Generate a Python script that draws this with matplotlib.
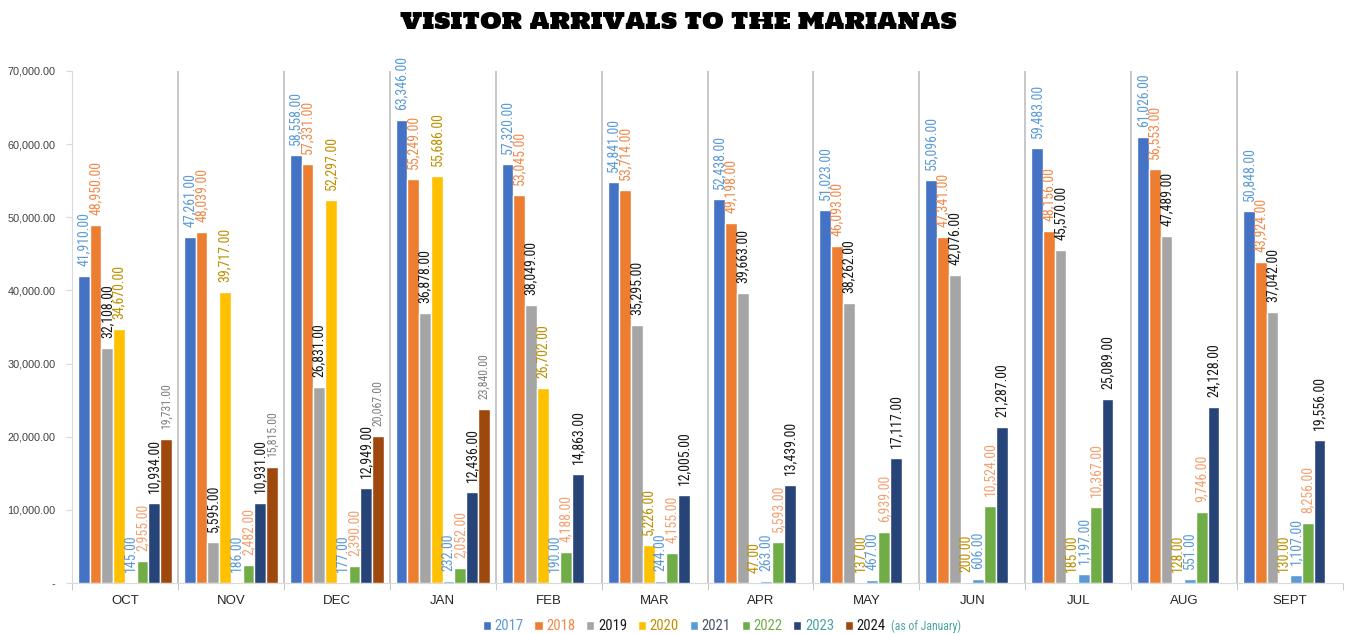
import numpy as np
import matplotlib
matplotlib.use("Agg")
import matplotlib.pyplot as plt
from matplotlib import font_manager

months = ["OCT", "NOV", "DEC", "JAN", "FEB", "MAR", "APR", "MAY", "JUN", "JUL", "AUG", "SEPT"]
years = ["2017", "2018", "2019", "2020", "2021", "2022", "2023", "2024"]

v2017 = [41910, 47261, 58558, 63346, 57320, 54841, 52438, 51023, 55096, 59483, 61026, 50848]
v2018 = [48950, 48039, 57331, 55249, 53045, 53714, 49198, 46093, 47341, 48156, 56553, 43924]
v2019 = [32108, 5595, 26831, 36878, 38049, 35295, 39663, 38262, 42076, 45570, 47489, 37042]
v2020 = [34670, 39717, 52297, 55686, 26702, 5226, 47, 137, 200, 185, 128, 130]
v2021 = [145, 186, 177, 232, 190, 244, 263, 467, 606, 1197, 551, 1107]
v2022 = [2955, 2482, 2390, 2052, 4188, 4155, 5593, 6939, 10524, 10367, 9746, 8256]
v2023 = [10934, 10931, 12949, 12436, 14863, 12005, 13439, 17117, 21287, 25089, 24128, 19556]
v2024 = [19731, 15815, 20067, 23840, None, None, None, None, None, None, None, None]

series = [v2017, v2018, v2019, v2020, v2021, v2022, v2023, v2024]
bar_colors = ["#4472C4", "#ED7D31", "#A5A5A5", "#FFC000", "#5B9BD5", "#70AD47", "#264478", "#9E480E"]
label_colors = ["#5B9BD5", "#F08A4B", "#1A1A1A", "#BF9000", "#5B9BD5", "#F4A070", "#1A1A1A", "#7F7F7F"]
legend_colors = ["#5B9BD5", "#F08A4B", "#1A1A1A", "#BF9000", "#44546A", "#70AD47", "#4BA3A3", "#1A1A1A"]


def pick(cands):
    names = {f.name for f in font_manager.fontManager.ttflist}
    for c in cands:
        if c in names:
            return c
    return "DejaVu Sans"


narrow = pick(["Roboto Condensed", "Archivo Narrow", "PT Sans Narrow"])
sans = pick(["Liberation Sans", "Arimo"])
title_font = pick(["Holtwood One SC", "Alfa Slab One", "DejaVu Serif"])

fig = plt.figure(figsize=(13.47, 6.34), dpi=100)
ax = fig.add_axes([72 / 1347, 1 - 583 / 634, (1343 - 72) / 1347, (583 - 71) / 634])

n = len(series)
pad = 0.056
slot = (1 - 2 * pad) / n
for j, (vals, col) in enumerate(zip(series, bar_colors)):
    xs = [i + pad + slot * (j + 0.5) for i, v in enumerate(vals) if v is not None]
    hs = [v for v in vals if v is not None]
    ax.bar(xs, hs, width=slot, color=col, edgecolor="white", linewidth=1, label=years[j], zorder=3)
    fs = 8.5 if years[j] == "2024" else 10
    for x, h in zip(xs, hs):
        ax.annotate(f"{h:,.2f}", (x, h), xytext=(0, 10), textcoords="offset pixels",
                    rotation=90, ha="center", va="bottom", fontsize=fs,
                    family=narrow, color=label_colors[j], zorder=4)

ax.set_xlim(0, 12)
ax.set_ylim(0, 70000)
for k in range(1, 12):
    ax.axvline(k, color="#BFBFBF", lw=1.2, zorder=1)

ax.set_xticks(np.arange(12) + 0.5)
ax.set_xticklabels(months, family=sans, fontsize=9.5, color="#262626")
ax.set_xticks(np.arange(13), minor=True)
ax.tick_params(axis="x", which="major", length=0, pad=9)
ax.tick_params(axis="x", which="minor", length=5, color="#BFBFBF")

yt = np.arange(0, 70001, 10000)
ax.set_yticks(yt)
ax.set_yticklabels(["-"] + [f"{t:,.2f}" for t in yt[1:]], family=sans, fontsize=7.8, color="#404040")
ax.tick_params(axis="y", length=4, color="#D9D9D9", pad=8)

for s in ["top", "right"]:
    ax.spines[s].set_visible(False)
ax.spines["left"].set_color("#D9D9D9")
ax.spines["bottom"].set_color("#D9D9D9")

fig.text(0.504, 0.967, "VISITOR ARRIVALS TO THE MARIANAS", ha="center", va="center",
         family=title_font, fontsize=16.7, color="black")

leg = fig.legend(loc="center", bbox_to_anchor=(0.508, 0.012), ncol=8, frameon=False,
                 handlelength=0.55, handleheight=0.55, handletextpad=0.25, columnspacing=0.75,
                 prop={"family": narrow, "size": 10.5})
for t, c in zip(leg.get_texts(), legend_colors):
    t.set_color(c)

fig.canvas.draw()
bb = leg.get_texts()[-1].get_window_extent()
fx = (bb.x1 + 5) / fig.bbox.width
fy = (bb.y0 + bb.y1) / 2 / fig.bbox.height
fig.text(fx, fy, "(as of January)", ha="left", va="center", family=narrow, fontsize=8.5, color="#4BA3A3")

fig.savefig("out.png", dpi=100)
